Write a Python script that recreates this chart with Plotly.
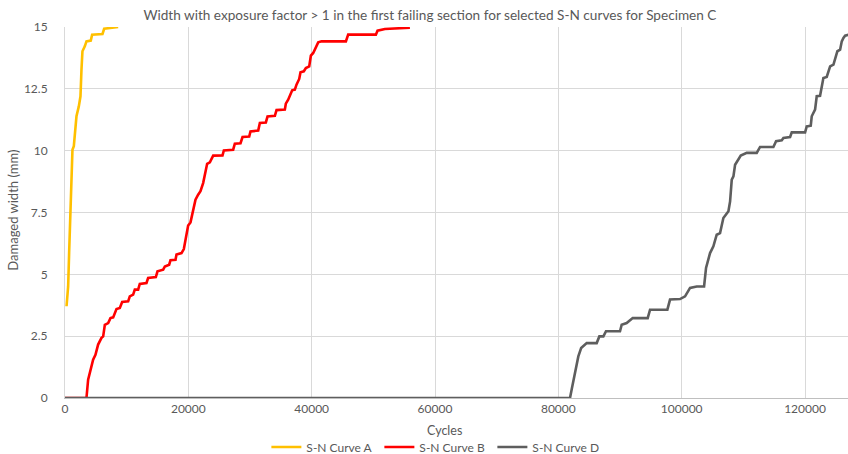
import plotly.graph_objects as go

# S-N Curve A: cycles and damaged width (mm)
cycles_a = [250, 510, 670, 890, 1050, 1210, 1430, 1590, 1860, 2240, 2510, 2670, 2830,
            3210, 3480, 4180, 4400, 6080, 6350, 8620]
width_a = [3.71, 4.51, 5.86, 7.75, 9.23, 10.04, 10.18, 10.71, 11.39, 11.79, 12.20, 13.27, 14.02,
           14.22, 14.42, 14.45, 14.69, 14.72, 14.93, 15.0]

# S-N Curve B
cycles_b = [0, 3480, 3750, 4130, 4560, 4940, 5370, 5920, 6190, 6460, 7000, 7370, 7810,
            8350, 8890, 9270, 10240, 10510, 11050, 11320, 11860, 12130, 13210, 13480, 14730,
            15000, 15920, 16190, 16890, 17110, 17920, 18080, 18890, 19270, 19590, 19970, 20350,
            20780, 21160, 21590, 21970, 22400, 23050, 23490, 24030, 25540, 25760, 27270, 27540,
            28460, 28790, 29870, 30080, 31330, 31600, 32570, 32840, 34030, 34300, 35650, 35810,
            36190, 36570, 36840, 37270, 37540, 37980, 38190, 38730, 39060, 39600, 39870, 40250,
            40790, 41060, 41600, 45550, 45920, 50410, 50680, 51870, 55930]
width_b = [0, 0, 0.74, 1.15, 1.55, 1.75, 2.16, 2.43, 2.49, 2.96, 3.03, 3.23, 3.26,
           3.60, 3.64, 3.88, 3.91, 4.11, 4.18, 4.38, 4.38, 4.61, 4.65, 4.85, 4.89,
           5.12, 5.19, 5.32, 5.39, 5.57, 5.59, 5.80, 5.86, 6.02, 6.40, 6.97, 7.10,
           7.55, 8.02, 8.22, 8.36, 8.69, 9.47, 9.53, 9.80, 9.81, 10.01, 10.04, 10.28,
           10.30, 10.55, 10.57, 10.78, 10.81, 11.12, 11.14, 11.38, 11.41, 11.64, 11.66, 11.90,
           12.06, 12.26, 12.44, 12.47, 12.67, 12.90, 13.17, 13.21, 13.34, 13.41, 13.84, 13.95,
           14.22, 14.38, 14.42, 14.42, 14.69, 14.69, 14.85, 14.92, 14.97]

# S-N Curve D
cycles_d = [0, 81890, 82160, 82540, 82870, 83240, 83700, 84600, 86220, 86650, 87300, 87730,
            90000, 90270, 91080, 92060, 94490, 94870, 97680, 98110, 99740, 100550, 101360,
            102440, 103630, 103950, 104600, 105140, 105680, 106220, 106760, 107580, 107850,
            108120, 108390, 108660, 109580, 110550, 112170, 112710, 114870, 115310, 116230,
            116500, 117580, 117850, 120010, 120280, 120930, 121090, 121630, 121900, 122440,
            122980, 123520, 124070, 124610, 124880, 125250, 125690, 125960, 126230, 126500,
            127040]
width_d = [0, 0, 0.34, 0.81, 1.28, 1.68, 2.02, 2.22, 2.22, 2.49, 2.49, 2.70,
           2.70, 2.96, 3.03, 3.23, 3.23, 3.57, 3.57, 3.98, 4.00, 4.11, 4.45,
           4.51, 4.51, 5.26, 5.86, 6.13, 6.60, 6.67, 7.28, 7.55, 7.95,
           8.83, 8.96, 9.43, 9.80, 9.91, 9.91, 10.15, 10.15, 10.38, 10.42,
           10.51, 10.55, 10.74, 10.74, 10.98, 11.01, 11.39, 11.66, 12.20, 12.22,
           12.94, 12.98, 13.41, 13.48, 13.75, 14.02, 14.08, 14.42, 14.56, 14.65,
           14.69]

y_ticks = [0, 2.5, 5, 7.5, 10, 12.5, 15]
x_ticks = [0, 20000, 40000, 60000, 80000, 100000, 120000]

FONT = "Lato, 'Open Sans', sans-serif"
TEXT = "#595959"
GRID = "#d9d9d9"

fig = go.Figure()
series = [
    ("S-N Curve A", cycles_a, width_a, "#FFC000"),
    ("S-N Curve B", cycles_b, width_b, "#FF0000"),
    ("S-N Curve D", cycles_d, width_d, "#5e5e5e"),
]
for name, xs, ys, color in series:
    fig.add_trace(go.Scatter(x=xs, y=ys, mode="lines", name=name,
                             line=dict(color=color, width=2.6)))

fig.update_layout(
    width=848, height=454,
    margin=dict(l=65, r=0, t=27, b=56, autoexpand=False),
    paper_bgcolor="white", plot_bgcolor="white",
    font=dict(family=FONT, color=TEXT, size=12),
    title=dict(text="Width with exposure factor > 1 in the first failing section for selected S-N curves for Specimen C",
               x=0.507, xanchor="center", y=1 - 15 / 454, yanchor="middle",
               yref="container", font=dict(size=13.6, color=TEXT, family=FONT)),
    legend=dict(orientation="h", x=0.514, xanchor="center", xref="container",
                y=7 / 454, yanchor="middle", yref="container",
                font=dict(size=12, color=TEXT), itemwidth=30, tracegroupgap=0,
                entrywidth=68, entrywidthmode="pixels"),
    showlegend=True,
)
# Axis titles placed as annotations relative to the plot area
fig.add_annotation(text="Cycles", xref="paper", yref="paper", x=0.485, y=-0.0863,
                   xanchor="center", yanchor="middle", showarrow=False,
                   font=dict(size=12.5, color=TEXT, family=FONT))
fig.add_annotation(text="Damaged width (mm)", xref="paper", yref="paper", x=-0.0664, y=0.505,
                   xanchor="center", yanchor="middle", textangle=-90, showarrow=False,
                   font=dict(size=13, color=TEXT, family=FONT))

fig.update_xaxes(range=[0, 126970], tickvals=x_ticks, ticktext=[str(v) for v in x_ticks],
                 showgrid=True, gridcolor=GRID, gridwidth=1, zeroline=False, automargin=False,
                 showline=True, linecolor="#bfbfbf", ticks="", tickfont=dict(size=12, color=TEXT))
fig.update_yaxes(range=[0, 15], tickvals=y_ticks, ticktext=[str(v) for v in y_ticks],
                 showgrid=True, gridcolor=GRID, gridwidth=1, zeroline=False, automargin=False,
                 showline=True, linecolor=GRID, ticks="", ticklabelstandoff=14,
                 tickfont=dict(size=12, color=TEXT))

fig.write_html("out.html")
